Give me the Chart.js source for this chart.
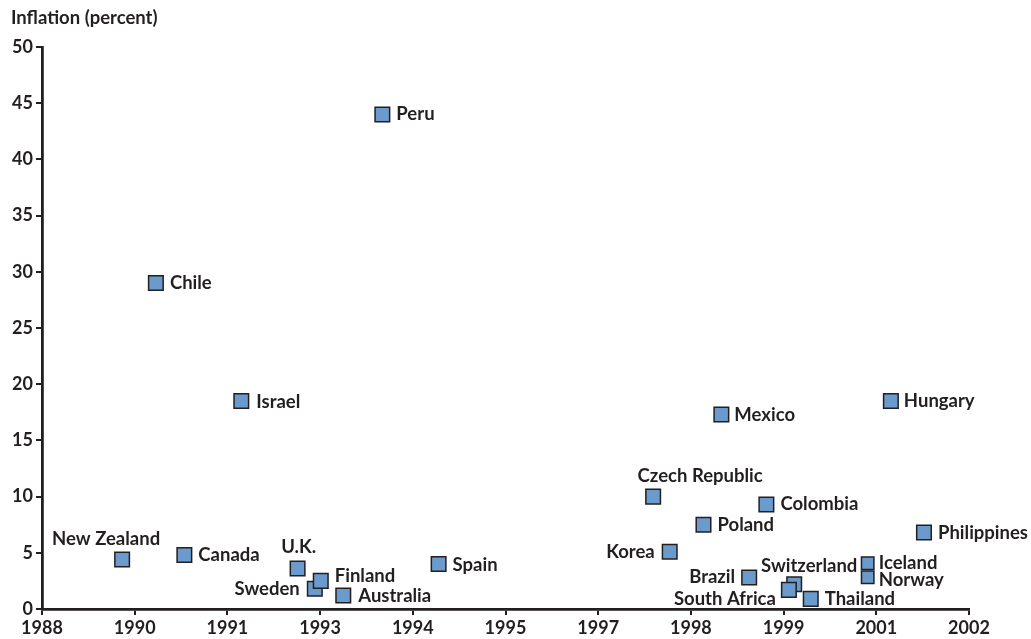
<!DOCTYPE html>
<html>
<head>
<meta charset="utf-8">
<script src="https://cdn.jsdelivr.net/npm/chart.js@4/dist/chart.umd.min.js"></script>
<style>
  html, body { margin: 0; padding: 0; background: #ffffff; }
  #wrap { width: 1031px; height: 639px; position: relative; }
</style>
</head>
<body>
<div id="wrap"><canvas id="c"></canvas></div>
<script>
// ---- Data ----
const countries = ["Peru","Chile","Israel","New Zealand","Canada","U.K.","Sweden","Finland","Australia","Spain",
  "Mexico","Hungary","Czech Republic","Colombia","Poland","Philippines","Korea","Brazil","Switzerland",
  "South Africa","Thailand","Iceland","Norway"];
const adoptionYear = [1993.14,1989.72,1991.01,1989.21,1990.15,1991.86,1992.12,1992.21,1992.55,1993.99,
  1998.26,2000.82,1997.23,1998.94,1997.99,2001.32,1997.48,1998.68,1999.36,
  1999.28,1999.61,2000.47,2000.47];
const inflation = [44.0,29.0,18.5,4.4,4.8,3.6,1.8,2.5,1.2,4.0,
  17.3,18.5,10.0,9.3,7.5,6.8,5.1,2.8,2.2,
  1.7,0.9,4.07,2.83];
const xTickLabels = ["1988","1990","1991","1993","1994","1995","1997","1998","1999","2001","2002"];
const yTickStep = 5;
const yTitle = "Inflation (percent)";

// Label placement relative to each marker: [align, dx, dy]
const labelPlacement = [
  ["r",14,0],["r",14,0],["r",15,1],["c",-16,-21],["r",14,0],["c",1,-22],["l",-15,0],["r",14,-5],["r",15,1],["r",14,1],
  ["r",13,0],["r",13,0],["c",47,-21],["r",14,0],["r",14,0],["r",14,0],["l",-15,0],["l",-14,0],["c",15,-18],
  ["l",-13,9],["r",14,0],["r",11,0],["r",11,3]
];
const smallMarkers = ["Iceland","Norway"];

const ink = "#231f20";
const fontFam = "Lato, 'Open Sans', sans-serif";

const points = adoptionYear.map((x, i) => ({ x: x, y: inflation[i] }));

const labelPlugin = {
  id: "pointLabels",
  afterDatasetsDraw(chart) {
    const ctx = chart.ctx;
    const meta = chart.getDatasetMeta(0);
    ctx.save();
    ctx.fillStyle = ink;
    ctx.font = "bold 18.5px " + fontFam;
    meta.data.forEach((el, i) => {
      const [al, dx, dy] = labelPlacement[i];
      ctx.textAlign = al === "r" ? "left" : (al === "l" ? "right" : "center");
      ctx.textBaseline = "middle";
      ctx.fillText(countries[i], el.x + dx, el.y + dy);
    });
    // axis title
    ctx.textAlign = "left";
    ctx.textBaseline = "middle";
    ctx.font = "bold 18.5px " + fontFam;
    ctx.fillText(yTitle, 11, 18);
    ctx.restore();
  }
};

new Chart(document.getElementById("c"), {
  type: "scatter",
  data: {
    datasets: [{
      data: points,
      pointStyle: "rect",
      pointRadius: (c) => smallMarkers.includes(countries[c.dataIndex]) ? 8.8 : 10.3,
      pointHoverRadius: (c) => smallMarkers.includes(countries[c.dataIndex]) ? 8.8 : 10.3,
      backgroundColor: "#6b9bcc",
      borderColor: ink,
      borderWidth: 1.5
    }]
  },
  options: {
    responsive: true,
    maintainAspectRatio: false,
    animation: false,
    events: [],
    layout: { padding: { top: 47, right: 62, left: 0, bottom: 0 } },
    plugins: { legend: { display: false }, tooltip: { enabled: false } },
    scales: {
      x: {
        type: "linear",
        min: 1988, max: 2002,
        afterFit: (s) => { s.height = 30; },
        border: { display: true, color: ink, width: 2.8 },
        grid: { display: true, drawOnChartArea: false, drawTicks: true, tickLength: 6, color: ink, lineWidth: 2 },
        ticks: {
          stepSize: 1.4,
          autoSkip: false,
          maxRotation: 0,
          padding: 2,
          color: ink,
          font: { family: fontFam, size: 18, weight: "bold" },
          callback: (v, i) => xTickLabels[i]
        }
      },
      y: {
        min: 0, max: 50,
        afterFit: (s) => { s.width = 42; },
        border: { display: true, color: ink, width: 2.8 },
        grid: { display: true, drawOnChartArea: false, drawTicks: true, tickLength: 6, color: ink, lineWidth: 2 },
        ticks: {
          stepSize: yTickStep,
          padding: 3,
          color: ink,
          font: { family: fontFam, size: 18, weight: "bold" }
        }
      }
    }
  },
  plugins: [labelPlugin]
});
</script>
</body>
</html>
